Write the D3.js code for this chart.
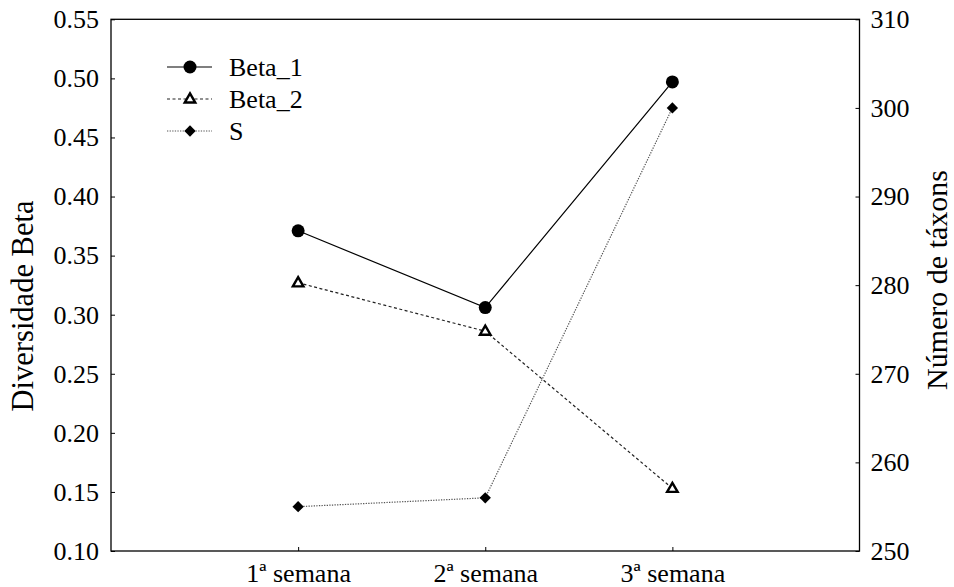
<!DOCTYPE html>
<html>
<head>
<meta charset="utf-8">
<script src="https://cdn.jsdelivr.net/npm/d3@7"></script>
</head>
<body style="margin:0">
<svg id="chart" width="954" height="587" font-family="Liberation Serif"></svg>
<script>
// ---- data ----
const categories = ["1ª semana", "2ª semana", "3ª semana"];
const beta1 = [0.371, 0.306, 0.497];
const beta2 = [0.327, 0.286, 0.153];
const sValues = [255, 256, 300];
const leftTicks = [0.10, 0.15, 0.20, 0.25, 0.30, 0.35, 0.40, 0.45, 0.50, 0.55];
const rightTicks = [250, 260, 270, 280, 290, 300, 310];
const seriesNames = ["Beta_1", "Beta_2", "S"];
const leftTitle = "Diversidade Beta";
const rightTitle = "Número de táxons";

// ---- layout ----
const FONT = '"Liberation Serif"';
const svg = d3.select("#chart");
const L = 111, R = 859.5, T = 19.3, B = 551;

const x = d3.scaleLinear().domain([0, categories.length + 1]).range([L, R]);
const yL = d3.scaleLinear().domain([0.10, 0.55]).range([B, T]);
const yR = d3.scaleLinear().domain([250, 310]).range([B, T]);

const tickFont = 26;
const K = 2; // render text large, then scale down

function setFont(sel, size) {
  sel.attr("font-family", "Liberation Serif").attr("font-size", size)
     .style("font-family", FONT).style("font-size", size + "px");
}
// draw text at K× size and scale it back down
function scaledFont(sel, size) {
  sel.each(function () {
    const t = d3.select(this);
    const ox = +(t.attr("x") || 0), oy = +(t.attr("y") || 0);
    const tr = t.attr("transform") || "";
    t.attr("x", ox * K).attr("y", oy * K).attr("transform", `${tr} scale(${1 / K})`);
  });
  setFont(sel, size * K);
}

// frame
svg.append("rect").attr("x", L).attr("y", T).attr("width", R - L).attr("height", B - T)
  .attr("fill", "none").attr("stroke", "#000").attr("stroke-width", 1.3);

const gl = svg.append("g").attr("transform", `translate(${L},0)`)
  .call(d3.axisLeft(yL).tickValues(leftTicks).tickFormat(d3.format(".2f")).tickSizeInner(-4).tickSizeOuter(0).tickPadding(12));
const gr = svg.append("g").attr("transform", `translate(${R},0)`)
  .call(d3.axisRight(yR).tickValues(rightTicks).tickFormat(d3.format("d")).tickSizeInner(-4).tickSizeOuter(0).tickPadding(11));
const gb = svg.append("g").attr("transform", `translate(0,${B})`)
  .call(d3.axisBottom(x).tickValues(categories.map((c, i) => i + 1)).tickFormat((d) => categories[d - 1]).tickSizeInner(-4).tickSizeOuter(0).tickPadding(20));

gb.selectAll(".tick text").attr("dy", null).attr("y", 31);
[gl, gr, gb].forEach(g => {
  setFont(g, tickFont * K);
  g.select(".domain").remove();
  g.selectAll(".tick line").attr("stroke", "#000").attr("stroke-width", 1);
  g.selectAll(".tick text").attr("fill", "#000");
  scaledFont(g.selectAll(".tick text"), tickFont);
});

// axis titles
setFont(svg.append("text").attr("transform", "translate(33,306) rotate(-90)")
  .attr("text-anchor", "middle").text(leftTitle), 30.5);
setFont(svg.append("text").attr("transform", "translate(947,280) rotate(-90)")
  .attr("text-anchor", "middle").text(rightTitle), 30);

// ---- series ----
const styles = [
  { data: beta1, y: yL, dash: null, stroke: "#000", sw: 1.2, marker: "circle" },
  { data: beta2, y: yL, dash: "3,2.5", stroke: "#222", sw: 1.2, marker: "triangle" },
  { data: sValues, y: yR, dash: "1.3,1.3", stroke: "#555", sw: 1.2, marker: "diamond" }
];

function drawMarker(g, type, cx, cy) {
  if (type === "circle") {
    g.append("circle").attr("cx", cx).attr("cy", cy).attr("r", 6.5).attr("fill", "#000");
  } else if (type === "triangle") {
    g.append("path").attr("d", d3.symbol(d3.symbolTriangle, 48)())
      .attr("transform", `translate(${cx},${cy + 0.5})`)
      .attr("fill", "#fff").attr("stroke", "#000").attr("stroke-width", 2.4);
  } else {
    g.append("path").attr("d", d3.symbol(d3.symbolSquare, 64)())
      .attr("transform", `translate(${cx},${cy}) rotate(45)`)
      .attr("fill", "#000");
  }
}

styles.forEach(s => {
  const line = d3.line().x((d, i) => x(i + 1)).y(d => s.y(d));
  svg.append("path").datum(s.data).attr("d", line).attr("fill", "none")
    .attr("stroke", s.stroke).attr("stroke-width", s.sw)
    .attr("stroke-dasharray", s.dash);
  const g = svg.append("g");
  s.data.forEach((d, i) => drawMarker(g, s.marker, x(i + 1), s.y(d)));
});

// ---- legend ----
seriesNames.forEach((name, i) => {
  const s = styles[i];
  const cy = 67 + i * 32;
  svg.append("line").attr("x1", 167).attr("x2", 212).attr("y1", cy).attr("y2", cy)
    .attr("stroke", s.stroke).attr("stroke-width", s.sw).attr("stroke-dasharray", s.dash);
  drawMarker(svg, s.marker, 190, cy);
  scaledFont(svg.append("text").attr("x", 229).attr("y", cy + 9).text(name), 26);
});
</script>
</body>
</html>
